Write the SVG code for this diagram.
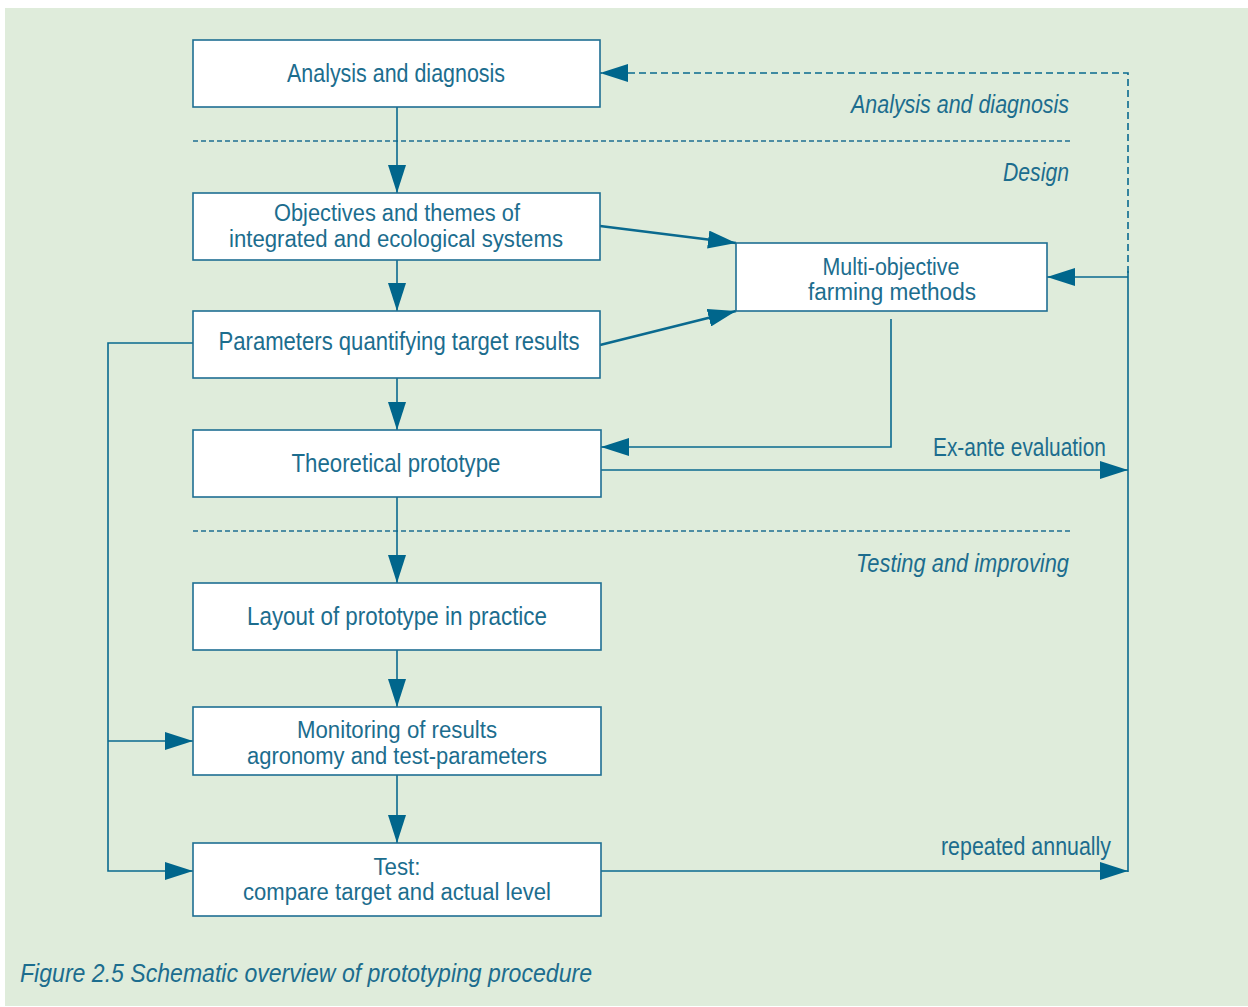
<svg xmlns="http://www.w3.org/2000/svg" width="1248" height="1007" viewBox="0 0 1248 1007">
<defs>
<style>
.box{fill:#ffffff;stroke:#1f6f93;stroke-width:1.6}
.t{font-family:"Liberation Sans",Arial,sans-serif;font-size:25px;fill:#1c6d8e;text-anchor:middle}
.t2{font-family:"Liberation Sans",Arial,sans-serif;font-size:23.5px;fill:#1c6d8e;text-anchor:middle}
.it{font-family:"Liberation Sans",Arial,sans-serif;font-size:25px;font-style:italic;fill:#1c6d8e;text-anchor:end}
.lb{font-family:"Liberation Sans",Arial,sans-serif;font-size:25px;fill:#1c6d8e;text-anchor:end}
.ln{fill:none;stroke:#0a6a8f;stroke-width:1.6}
.thick{fill:none;stroke:#0a6a8f;stroke-width:2.6}
.dash{fill:none;stroke:#0a6a8f;stroke-width:1.6;stroke-dasharray:7 4}
.sep{fill:none;stroke:#1f6f93;stroke-width:1.4;stroke-dasharray:5 3}
</style>
<marker id="ah" viewBox="0 0 28 18" refX="28" refY="9" markerWidth="28" markerHeight="18" markerUnits="userSpaceOnUse" orient="auto">
<path d="M0,0 L28,9 L0,18 Z" fill="#00668c"/>
</marker>
</defs>
<rect x="5" y="8" width="1243" height="998" fill="#dfecdb"/>

<g id="separators">
<line class="sep" x1="193" y1="141" x2="1073" y2="141"/>
<line class="sep" x1="193" y1="531" x2="1073" y2="531"/>
<text class="it" x="1069" y="113" textLength="218" lengthAdjust="spacingAndGlyphs">Analysis and diagnosis</text>
<text class="it" x="1069" y="181" textLength="66" lengthAdjust="spacingAndGlyphs">Design</text>
<text class="it" x="1069" y="572" textLength="213" lengthAdjust="spacingAndGlyphs">Testing and improving</text>
</g>

<g id="connectors">
<line class="ln" x1="397" y1="107" x2="397" y2="193" marker-end="url(#ah)"/>
<line class="ln" x1="397" y1="260" x2="397" y2="311" marker-end="url(#ah)"/>
<line class="ln" x1="397" y1="378" x2="397" y2="430" marker-end="url(#ah)"/>
<line class="ln" x1="397" y1="497" x2="397" y2="583" marker-end="url(#ah)"/>
<line class="ln" x1="397" y1="650" x2="397" y2="707" marker-end="url(#ah)"/>
<line class="ln" x1="397" y1="775" x2="397" y2="843" marker-end="url(#ah)"/>
<line class="thick" x1="600" y1="226" x2="736" y2="243" marker-end="url(#ah)"/>
<line class="thick" x1="600" y1="345" x2="736" y2="311" marker-end="url(#ah)"/>
<polyline class="ln" points="891,319 891,447 601,447" marker-end="url(#ah)"/>
<polyline class="dash" points="1128,273 1128,73 600,73" marker-end="url(#ah)"/>
<line class="ln" x1="1128" y1="271" x2="1128" y2="872"/>
<line class="ln" x1="1128" y1="277" x2="1047" y2="277" marker-end="url(#ah)"/>
<line class="ln" x1="601" y1="470" x2="1128" y2="470" marker-end="url(#ah)"/>
<line class="ln" x1="601" y1="871" x2="1128" y2="871" marker-end="url(#ah)"/>
<polyline class="ln" points="193,343 108,343 108,871 193,871" marker-end="url(#ah)"/>
<line class="ln" x1="108" y1="741" x2="193" y2="741" marker-end="url(#ah)"/>
<text class="lb" x="1106" y="456" textLength="173" lengthAdjust="spacingAndGlyphs">Ex-ante evaluation</text>
<text class="lb" x="1111" y="855" textLength="170" lengthAdjust="spacingAndGlyphs">repeated annually</text>
</g>

<g id="n-analysis">
<rect class="box" x="193" y="40" width="407" height="67"/>
<text class="t" x="396" y="82" textLength="218" lengthAdjust="spacingAndGlyphs">Analysis and diagnosis</text>
</g>
<g id="n-objectives">
<rect class="box" x="193" y="193" width="407" height="67"/>
<text class="t2" x="397" y="221" textLength="246" lengthAdjust="spacingAndGlyphs">Objectives and themes of</text>
<text class="t2" x="396" y="247" textLength="334" lengthAdjust="spacingAndGlyphs">integrated and ecological systems</text>
</g>
<g id="n-parameters">
<rect class="box" x="193" y="311" width="407" height="67"/>
<text class="t" x="399" y="350" textLength="361" lengthAdjust="spacingAndGlyphs">Parameters quantifying target results</text>
</g>
<g id="n-theoretical">
<rect class="box" x="193" y="430" width="408" height="67"/>
<text class="t" x="396" y="472" textLength="209" lengthAdjust="spacingAndGlyphs">Theoretical prototype</text>
</g>
<g id="n-layout">
<rect class="box" x="193" y="583" width="408" height="67"/>
<text class="t" x="397" y="625" textLength="300" lengthAdjust="spacingAndGlyphs">Layout of prototype in practice</text>
</g>
<g id="n-monitoring">
<rect class="box" x="193" y="707" width="408" height="68"/>
<text class="t2" x="397" y="738" textLength="200" lengthAdjust="spacingAndGlyphs">Monitoring of results</text>
<text class="t2" x="397" y="764" textLength="300" lengthAdjust="spacingAndGlyphs">agronomy and test-parameters</text>
</g>
<g id="n-test">
<rect class="box" x="193" y="843" width="408" height="73"/>
<text class="t2" x="397" y="875" textLength="47" lengthAdjust="spacingAndGlyphs">Test:</text>
<text class="t2" x="397" y="900" textLength="308" lengthAdjust="spacingAndGlyphs">compare target and actual level</text>
</g>
<g id="n-multi">
<rect class="box" x="736" y="243" width="311" height="68"/>
<text class="t2" x="891" y="275" textLength="137" lengthAdjust="spacingAndGlyphs">Multi-objective</text>
<text class="t2" x="892" y="300" textLength="168" lengthAdjust="spacingAndGlyphs">farming  methods</text>
</g>

<g id="caption">
<text x="20" y="982" font-family="'Liberation Sans',Arial,sans-serif" font-size="25" font-style="italic" fill="#1c6d8e" textLength="572" lengthAdjust="spacingAndGlyphs">Figure 2.5 Schematic overview of prototyping procedure</text>
</g>
</svg>
